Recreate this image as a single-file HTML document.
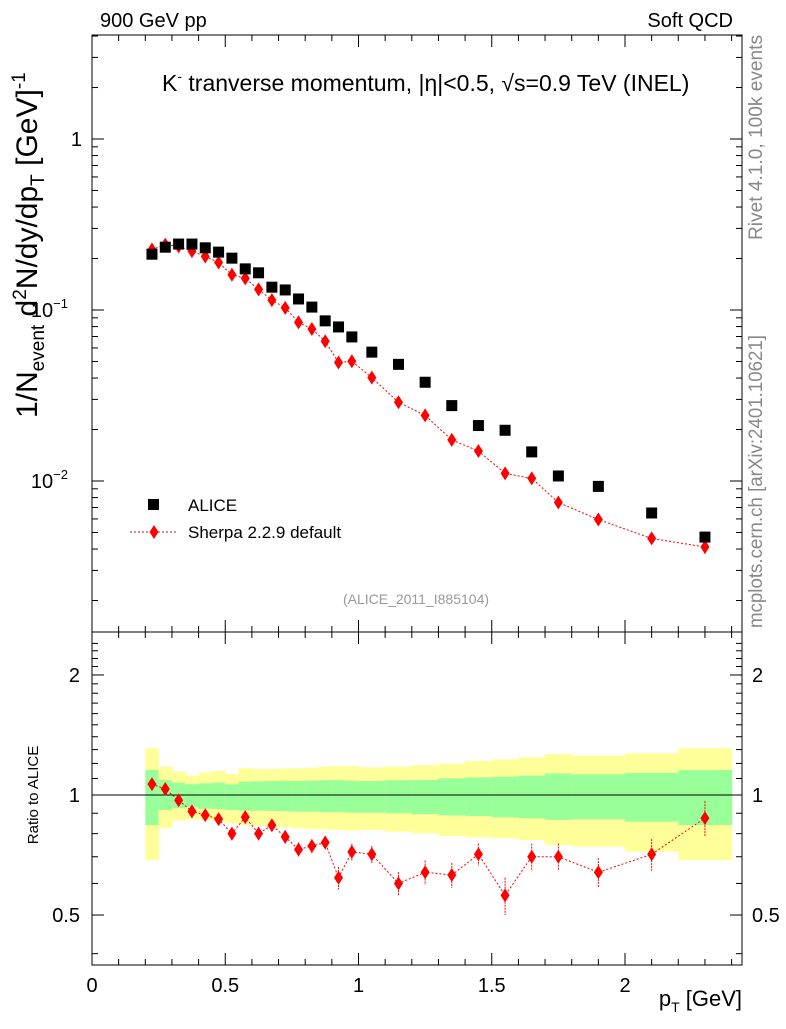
<!DOCTYPE html>
<html><head><meta charset="utf-8"><style>
body{margin:0;background:#fff}
svg text{font-family:"Liberation Sans",Arial,sans-serif}
</style></head><body>
<svg id="c" width="786" height="1024" viewBox="0 0 786 1024" xmlns="http://www.w3.org/2000/svg"></svg>
<script>
const xs=[0.225,0.275,0.325,0.375,0.425,0.475,0.525,0.575,0.625,0.675,0.725,0.775,0.825,0.875,0.925,0.975,1.05,1.15,1.25,1.35,1.45,1.55,1.65,1.75,1.9,2.1,2.3];
const binLo=[0.2,0.25,0.3,0.35,0.4,0.45,0.5,0.55,0.6,0.65,0.7,0.75,0.8,0.85,0.9,0.95,1.0,1.1,1.2,1.3,1.4,1.5,1.6,1.7,1.8,2.0,2.2];
const binHi=[0.25,0.3,0.35,0.4,0.45,0.5,0.55,0.6,0.65,0.7,0.75,0.8,0.85,0.9,0.95,1.0,1.1,1.2,1.3,1.4,1.5,1.6,1.7,1.8,2.0,2.2,2.4];
const alice=[0.212,0.233,0.243,0.243,0.231,0.218,0.201,0.174,0.165,0.136,0.131,0.116,0.104,0.0864,0.0796,0.0696,0.0567,0.0481,0.0378,0.0276,0.0211,0.0198,0.0148,0.0107,0.0093,0.0065,0.0047];
const ratio=[1.065,1.035,0.97,0.91,0.89,0.87,0.80,0.88,0.80,0.84,0.785,0.73,0.745,0.76,0.62,0.72,0.71,0.60,0.64,0.63,0.71,0.56,0.70,0.70,0.64,0.71,0.875];
const ratioErr=[0.03,0.025,0.025,0.025,0.025,0.03,0.03,0.03,0.03,0.03,0.03,0.03,0.03,0.03,0.04,0.035,0.035,0.04,0.045,0.045,0.045,0.06,0.055,0.055,0.055,0.065,0.09];
const yellowUp=[1.31,1.178,1.144,1.118,1.14,1.149,1.129,1.167,1.162,1.162,1.164,1.167,1.171,1.178,1.182,1.182,1.174,1.178,1.189,1.20,1.217,1.229,1.243,1.267,1.255,1.272,1.31];
const greenUp=[1.155,1.09,1.074,1.064,1.07,1.074,1.064,1.08,1.082,1.084,1.086,1.086,1.086,1.089,1.09,1.086,1.084,1.089,1.09,1.101,1.107,1.111,1.118,1.133,1.127,1.137,1.155];
const greenLo=[0.841,0.917,0.926,0.931,0.924,0.922,0.917,0.913,0.913,0.912,0.91,0.908,0.908,0.906,0.905,0.903,0.903,0.90,0.895,0.889,0.886,0.879,0.874,0.866,0.869,0.857,0.841];
const yellowLo=[0.687,0.825,0.862,0.869,0.866,0.862,0.849,0.841,0.838,0.833,0.83,0.825,0.822,0.82,0.817,0.814,0.817,0.809,0.801,0.789,0.783,0.779,0.771,0.749,0.742,0.721,0.687];
const xTicks=[0,0.5,1,1.5,2];
const xTickLabels=["0","0.5","1","1.5","2"];

const svg=document.getElementById('c');const NS='http://www.w3.org/2000/svg';
function el(t,a,p){const e=document.createElementNS(NS,t);for(const k in a)e.setAttribute(k,a[k]);(p||svg).appendChild(e);return e;}
const L=92,R=742,T=35,M=632,B=965;
const X=v=>L+v*266.5;
const Y=v=>139-Math.log10(v)*171;
const YR=v=>795-Math.log10(v)*398.7;

for(let i=0;i<binLo.length;i++){
 const w=X(binHi[i])-X(binLo[i])+0.5;
 const y=el('rect',{x:X(binLo[i]),y:YR(yellowUp[i]),width:w,height:YR(yellowLo[i])-YR(yellowUp[i]),fill:'#ffff99'});
 
 const g=el('rect',{x:X(binLo[i]),y:YR(greenUp[i]),width:w,height:YR(greenLo[i])-YR(greenUp[i]),fill:'#99ff99'});
 
}
el('line',{x1:L,x2:R,y1:YR(1),y2:YR(1),stroke:'#000','stroke-width':1});

el('rect',{x:L,y:T,width:R-L,height:M-T,fill:'none',stroke:'#000','stroke-width':1});
el('rect',{x:L,y:M,width:R-L,height:B-M,fill:'none',stroke:'#000','stroke-width':1});

for(let v=0;v<=2.4001;v+=0.1){
 const big=Math.abs(v*2-Math.round(v*2))<1e-6, len=big?12:6, x=X(v);
 [[B,-1],[M,1],[M,-1],[T,1]].forEach(([y0,d])=>el('line',{x1:x,x2:x,y1:y0,y2:y0+d*len,stroke:'#000'}));
}
xTicks.forEach((v,i)=>{const t=el('text',{x:X(v),y:992,'font-size':20,'text-anchor':'middle'});t.textContent=xTickLabels[i];});
for(let d=-3;d<=0;d++){for(let m=1;m<10;m++){const v=m*Math.pow(10,d);const y=Y(v);if(y<T||y>M)continue;const len=m==1?12:6;
 el('line',{x1:L,x2:L+len,y1:y,y2:y,stroke:'#000'});el('line',{x1:R,x2:R-len,y1:y,y2:y,stroke:'#000'});}}
[[1,'1'],[0.1,'10'],[0.01,'10']].forEach(([v,s],i)=>{const t=el('text',{x:i?68:82,y:Y(v)+7,'font-size':20,'text-anchor':'end'});t.textContent=s;
 if(i){const sp=el('tspan',{'font-size':13,dy:-9},t);sp.textContent=i==1?'−1':'−2';}
 });
for(let v=0.4;v<=2.5;v+=0.1){const y=YR(v);if(y<M||y>B)continue;const big=[0.5,1,2].some(k=>Math.abs(k-v)<1e-6);const len=big?12:6;
 el('line',{x1:L,x2:L+len,y1:y,y2:y,stroke:'#000'});el('line',{x1:R,x2:R-len,y1:y,y2:y,stroke:'#000'});}
[[2,'2'],[1,'1'],[0.5,'0.5']].forEach(([v,s])=>{const t=el('text',{x:80,y:YR(v)+7,'font-size':20,'text-anchor':'end'});t.textContent=s;
 const t2=el('text',{x:752,y:YR(v)+7,'font-size':20});t2.textContent=s;});

const sher=alice.map((a,i)=>a*ratio[i]);
el('polyline',{points:xs.map((x,i)=>X(x)+','+Y(sher[i])).join(' '),fill:'none',stroke:'#f00','stroke-dasharray':'2,2'});
el('polyline',{points:xs.map((x,i)=>X(x)+','+YR(ratio[i])).join(' '),fill:'none',stroke:'#f00','stroke-dasharray':'2,2'});
function diamond(x,y,name){const p=el('polygon',{points:`${x},${y-7} ${x+4.5},${y} ${x},${y+7} ${x-4.5},${y}`,fill:'#f00'});}
xs.forEach((x,i)=>{
 const e=ratioErr[i];
 el('line',{x1:X(x),x2:X(x),y1:Y(sher[i]*(1+e)),y2:Y(sher[i]*(1-e)),stroke:'#f00','stroke-dasharray':'2,1'});
 diamond(X(x),Y(sher[i]),'sherpa-point');
 el('line',{x1:X(x),x2:X(x),y1:YR(ratio[i]+e),y2:YR(ratio[i]-e),stroke:'#f00','stroke-dasharray':'2,1'});
 diamond(X(x),YR(ratio[i]),'ratio-point');
 const s=el('rect',{x:X(x)-5.5,y:Y(alice[i])-5.5,width:11,height:11,fill:'#000'});
 
});

const lg=el('g',{});
el('rect',{x:148,y:499,width:11,height:11,fill:'#000'},lg);
let t=el('text',{x:188,y:511,'font-size':17},lg);t.textContent='ALICE';
el('line',{x1:130,x2:178,y1:532,y2:532,stroke:'#f00','stroke-dasharray':'2,2'},lg);
el('polygon',{points:'154,525 158.5,532 154,539 149.5,532',fill:'#f00'},lg);
t=el('text',{x:188,y:538,'font-size':17},lg);t.textContent='Sherpa 2.2.9 default';

function txt(x,y,s,attrs,name){const e=el('text',Object.assign({x,y},attrs));e.textContent=s;return e;}
txt(100,27,'900 GeV pp',{'font-size':20},'top-left-label');
txt(733,27,'Soft QCD',{'font-size':20,'text-anchor':'end'},'top-right-label');
const ti=txt(162,91,'K',{'font-size':23},'plot-title');
let sp=el('tspan',{'font-size':14,dy:-10},ti);sp.textContent='-';
sp=el('tspan',{dy:10},ti);sp.textContent=' tranverse momentum, |η|<0.5, √s=0.9 TeV (INEL)';
txt(416,604,'(ALICE_2011_I885104)',{'font-size':14,fill:'#999','text-anchor':'middle'},'analysis-id');
txt(0,0,'Rivet 4.1.0,  100k events',{'font-size':19,fill:'#888',textLength:205,lengthAdjust:'spacingAndGlyphs',transform:'translate(762,240) rotate(-90)'},'rivet-version');
txt(0,0,'mcplots.cern.ch [arXiv:2401.10621]',{'font-size':19,fill:'#888',textLength:293,lengthAdjust:'spacingAndGlyphs',transform:'translate(762,628) rotate(-90)'},'mcplots-credit');
txt(0,0,'Ratio to ALICE',{'font-size':15,'text-anchor':'middle',transform:'translate(38,795) rotate(-90)'},'ratio-y-axis-title');
const yt=txt(0,0,'1/N',{'font-size':30,transform:'translate(37,418) rotate(-90)'},'y-axis-title');
[['event',19,7],['  d',30,-7],['2',19,-11],['N/dy/dp',30,11],['T',19,7],['   [GeV]',30,-7],['-1',19,-12]].forEach(([s,f,dy])=>{const q=el('tspan',{'font-size':f,dy},yt);q.textContent=s;});
const xt=txt(742,1006,'p',{'font-size':22,'text-anchor':'end'},'x-axis-title');
sp=el('tspan',{'font-size':14,dy:6},xt);sp.textContent='T';sp=el('tspan',{dy:-6},xt);sp.textContent=' [GeV]';
</script>
</body></html>
